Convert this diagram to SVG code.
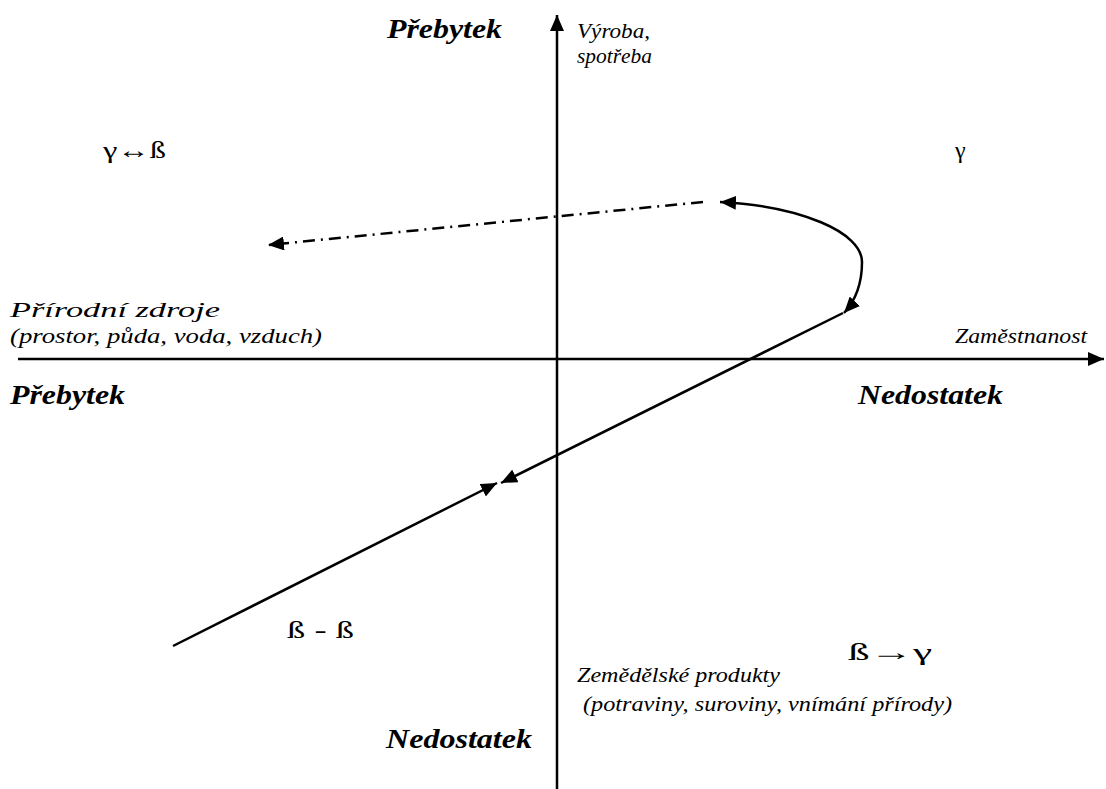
<svg xmlns="http://www.w3.org/2000/svg" width="1106" height="789" viewBox="0 0 1106 789">
<rect width="1106" height="789" fill="#fff"/>
<text font-family="Liberation Serif, Tinos, Times New Roman, serif" font-style="italic" font-weight="bold" font-size="28" x="387" y="38" textLength="115" lengthAdjust="spacingAndGlyphs">Přebytek</text>
<text font-family="Liberation Serif, Tinos, Times New Roman, serif" font-style="italic" font-size="22" x="577" y="38" textLength="73" lengthAdjust="spacingAndGlyphs">Výroba,</text>
<text font-family="Liberation Serif, Tinos, Times New Roman, serif" font-style="italic" font-size="22" x="577" y="63" textLength="75" lengthAdjust="spacingAndGlyphs">spotřeba</text>
<text font-family="Liberation Serif, Tinos, Times New Roman, serif" font-size="24" x="103" y="158" textLength="63" lengthAdjust="spacingAndGlyphs">γ↔ß</text>
<text font-family="Liberation Serif, Tinos, Times New Roman, serif" font-size="24" x="955" y="158">γ</text>
<text font-family="Liberation Serif, Tinos, Times New Roman, serif" font-style="italic" font-size="22" x="10" y="317" textLength="210" lengthAdjust="spacingAndGlyphs">Přírodní zdroje</text>
<text font-family="Liberation Serif, Tinos, Times New Roman, serif" font-style="italic" font-size="22" x="10" y="343" textLength="312" lengthAdjust="spacingAndGlyphs">(prostor, půda, voda, vzduch)</text>
<text font-family="Liberation Serif, Tinos, Times New Roman, serif" font-style="italic" font-size="22" x="955" y="343" textLength="132" lengthAdjust="spacingAndGlyphs">Zaměstnanost</text>
<text font-family="Liberation Serif, Tinos, Times New Roman, serif" font-style="italic" font-weight="bold" font-size="28" x="10" y="404" textLength="115" lengthAdjust="spacingAndGlyphs">Přebytek</text>
<text font-family="Liberation Serif, Tinos, Times New Roman, serif" font-style="italic" font-weight="bold" font-size="28" x="858" y="404" textLength="145" lengthAdjust="spacingAndGlyphs">Nedostatek</text>
<text font-family="Liberation Serif, Tinos, Times New Roman, serif" font-size="24" x="848" y="660" textLength="84" lengthAdjust="spacingAndGlyphs">ß→γ</text>
<text font-family="Liberation Serif, Tinos, Times New Roman, serif" font-size="24" x="287" y="638" textLength="67" lengthAdjust="spacingAndGlyphs">ß - ß</text>
<text font-family="Liberation Serif, Tinos, Times New Roman, serif" font-style="italic" font-size="22" x="577" y="682" textLength="203" lengthAdjust="spacingAndGlyphs">Zemědělské produkty</text>
<text font-family="Liberation Serif, Tinos, Times New Roman, serif" font-style="italic" font-size="22" x="583" y="711" textLength="369" lengthAdjust="spacingAndGlyphs">(potraviny, suroviny, vnímání přírody)</text>
<text font-family="Liberation Serif, Tinos, Times New Roman, serif" font-style="italic" font-weight="bold" font-size="28" x="386" y="748" textLength="146" lengthAdjust="spacingAndGlyphs">Nedostatek</text>
<defs>
<marker id="ah" markerUnits="userSpaceOnUse" markerWidth="18" markerHeight="14" refX="16" refY="7" orient="auto-start-reverse">
<path d="M0,0 L16,7 L0,14 Z" fill="#000"/>
</marker>
</defs>
<g id="axes" fill="none" stroke="#000" stroke-width="2.5">
<line x1="557" y1="789" x2="557" y2="15" marker-end="url(#ah)"/>
<line x1="18" y1="359" x2="1104" y2="359" marker-end="url(#ah)"/>
</g>
<g id="connectors" fill="none" stroke="#000" stroke-width="2.5">
<line x1="173" y1="646" x2="497" y2="483" marker-end="url(#ah)"/>
<line x1="843" y1="313" x2="501" y2="483" marker-end="url(#ah)"/>
<path d="M720,202 C800,206 862,232 862,262 C862,284 856,300 844,313" marker-start="url(#ah)" marker-end="url(#ah)"/>
<line x1="703" y1="202" x2="268" y2="245" stroke-dasharray="12,6,2,6" marker-end="url(#ah)"/>
</g>
</svg>
